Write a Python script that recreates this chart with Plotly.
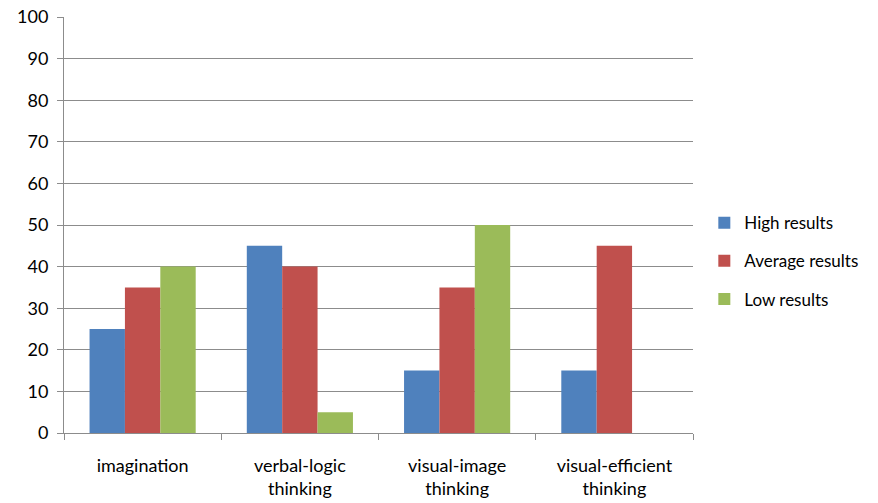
import plotly.graph_objects as go

categories = ["imagination", "verbal-logic<br>thinking", "visual-image<br>thinking", "visual-efficient<br>thinking"]
high = [25, 45, 15, 15]
average = [35, 40, 35, 45]
low = [40, 5, 50, 0]
series_names = ["High results", "Average results", "Low results"]
colors = ["#4F81BD", "#C0504D", "#9BBB59"]

fig = go.Figure()
for i, (name, vals, col) in enumerate(zip(series_names, [high, average, low], colors)):
    fig.add_trace(go.Bar(
        x=categories, y=vals, name=name, marker_color=col,
        marker_line_width=0, legendgroup=f"g{i}",
    ))

font_family = "Lato, Open Sans, sans-serif"
fig.update_layout(
    width=878, height=503,
    margin=dict(l=64, r=185, t=17, b=70, autoexpand=False),
    paper_bgcolor="white", plot_bgcolor="white",
    barmode="group", bargap=0.325, bargroupgap=0,
    font=dict(family=font_family, size=18, color="#000000"),
    legend=dict(
        x=1.018, y=0.413, xanchor="left", yanchor="middle",
        font=dict(size=17), tracegroupgap=13, itemwidth=30,
    ),
    showlegend=True,
)
fig.update_yaxes(
    range=[0, 100], dtick=10, showgrid=True, gridcolor="#8c8c8c", gridwidth=1,
    showline=True, linecolor="#8c8c8c", ticks="outside", ticklen=6,
    tickcolor="#8c8c8c", zeroline=False, fixedrange=True, ticklabelstandoff=5,
)
fig.update_xaxes(
    showline=True, linecolor="#8c8c8c", ticks="outside", ticklen=6,
    tickcolor="#8c8c8c", tickson="boundaries", showgrid=False,
    tickangle=0, fixedrange=True, ticklabelstandoff=16,
)

fig.write_html("out.html")
